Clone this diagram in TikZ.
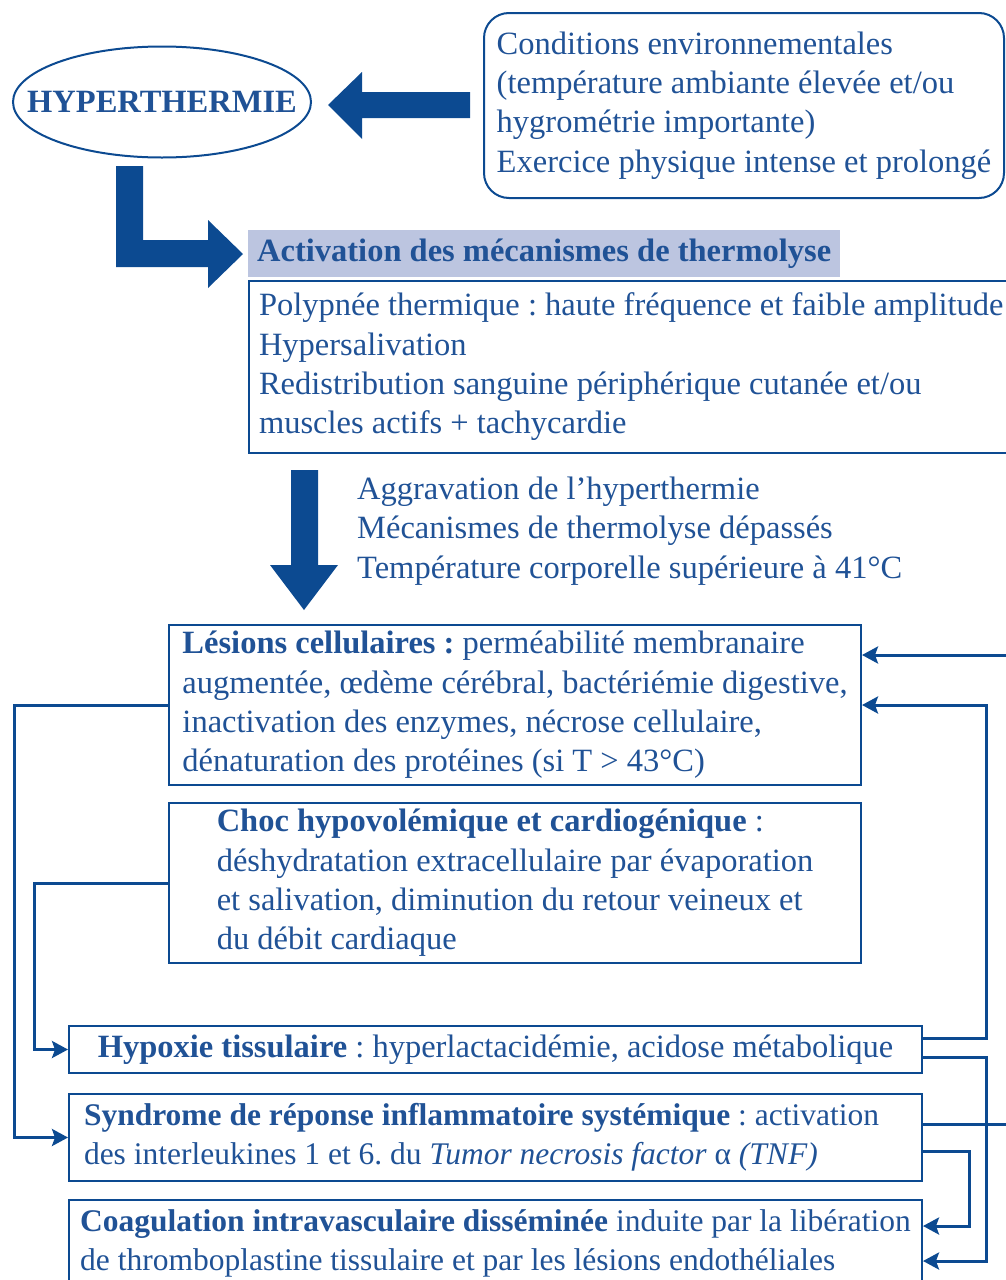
\documentclass[tikz,border=0pt]{standalone}
\usepackage{fontspec}
\setmainfont{Liberation Serif}
\usetikzlibrary{shapes.geometric,arrows.meta}
\definecolor{bleu}{RGB}{12,74,145}
\definecolor{bleutexte}{RGB}{32,82,150}
\definecolor{lavande}{RGB}{188,197,224}

\begin{document}
\frenchspacing
\begin{tikzpicture}[x=1pt,y=-1pt,
  txt/.style={font=\fontsize{32.5}{39.3}\selectfont, text=bleutexte, align=flush left, inner sep=0pt},
  gras/.style={font={\fontsize{32.5}{39.3}\selectfont\bfseries}},
  serre/.style={font=\fontsize{31.5}{39.3}\selectfont},
  boite/.style={txt, draw=bleu, line width=2pt, anchor=north west},
  lien/.style={draw=bleu, line width=3pt, -{Stealth[length=16pt,width=17pt,inset=3pt]}},
  fleche/.style={fill=bleu}]
  \useasboundingbox (0,0) rectangle (1005,1280);

  \node[txt, gras, draw=bleu, line width=2pt, ellipse, inner xsep=-30pt, minimum width=298, minimum height=111] (hyper) at (162,102) {HYPERTHERMIE};
  \node[boite, rounded corners=25pt, minimum width=520, minimum height=185] (milieu) at (483,12) {Conditions environnementales\\(température ambiante élevée et/ou\\hygrométrie importante)\\Exercice physique intense et prolongé};
  \fill[fleche] (470,92) -- (362,92) -- (362,72) -- (328,105) -- (362,139) -- (362,118) -- (470,118) -- cycle;

  \node[txt, gras, fill=lavande, anchor=north west, minimum width=592, minimum height=47] (titre) at (248,230) {Activation des mécanismes de thermolyse};
  \node[boite, minimum height=172, text width=800, inner xsep=10pt] (thermo) at (248,280) {Polypnée thermique : haute fréquence et faible amplitude\\Hypersalivation\\Redistribution sanguine périphérique cutanée et/ou\\muscles actifs + tachycardie};
  \fill[fleche] (116,166) -- (143,166) -- (143,240) -- (208,240) -- (208,220) -- (243,254) -- (208,288) -- (208,267) -- (116,267) -- cycle;

  \fill[fleche] (291,470) -- (318,470) -- (318,565) -- (338,565) -- (304,610) -- (270,565) -- (291,565) -- cycle;
  \node[txt, anchor=west] (aggrav) at (357,531) {Aggravation de l’hyperthermie\\Mécanismes de thermolyse dépassés\\Température corporelle supérieure à 41°C};

  \node[boite, minimum width=692, minimum height=160] (lesions) at (168,624) {\textbf{Lésions cellulaires :} perméabilité membranaire\\augmentée, œdème cérébral, bactériémie digestive,\\inactivation des enzymes, nécrose cellulaire,\\dénaturation des protéines (si T > 43°C)};
  \node[boite, minimum width=692, minimum height=160] (choc) at (168,802) {\textbf{Choc hypovolémique et cardiogénique} :\\déshydratation extracellulaire par évaporation\\et salivation, diminution du retour veineux et\\du débit cardiaque};
  \node[boite, minimum width=853, minimum height=47] (hypoxie) at (68,1025) {\textbf{Hypoxie tissulaire} : hyperlactacidémie, acidose métabolique};
  \node[boite, serre, minimum height=87, text width=823, inner xsep=15pt] (sris) at (68,1093) {\textbf{Syndrome de réponse inflammatoire systémique} : activation\\des interleukines 1 et 6. du \textit{Tumor necrosis factor} α \textit{(TNF)}};
  \node[boite, serre, minimum width=853, minimum height=87] (civd) at (68,1199) {\textbf{Coagulation intravasculaire disséminée} induite par la libération\\de thromboplastine tissulaire et par les lésions endothéliales};

  \draw[lien] (lesions.west) -- ++(-154,0) |- (sris.west);
  \draw[lien] (choc.west) -- ++(-134,0) |- (hypoxie.west);
  \draw[lien] ([yshift=11pt]hypoxie.east) -- ++(63,0) |- (lesions.east);
  \draw[lien] ([yshift=-8pt]hypoxie.east) -- ++(63,0) |- ([yshift=-17.5pt]civd.east);
  \draw[lien] ([yshift=-13.5pt]sris.east) -- ++(46,0) |- ([yshift=17.5pt]civd.east);
  \draw[lien] ([yshift=13.5pt]sris.east) -- ++(110,0) |- ([yshift=50pt]lesions.east);
\end{tikzpicture}
\end{document}
